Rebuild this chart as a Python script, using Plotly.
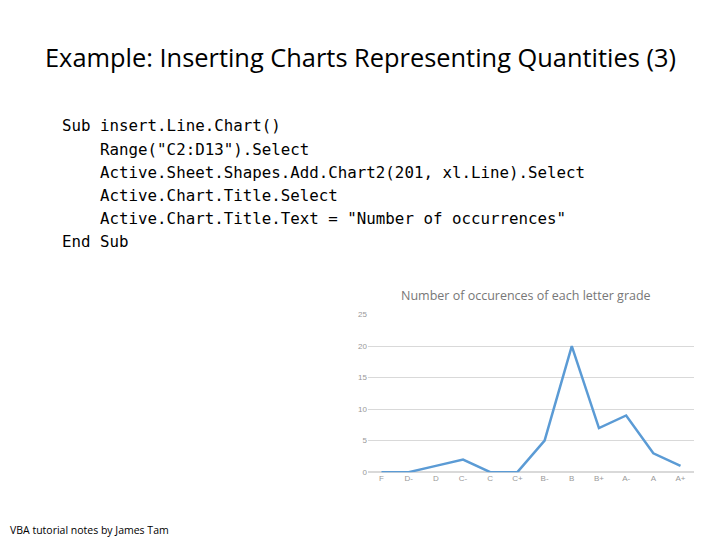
import plotly.graph_objects as go

grades = ["F", "D-", "D", "C-", "C", "C+", "B-", "B", "B+", "A-", "A", "A+"]
counts = [0, 0, 1, 2, 0, 0, 5, 20, 7, 9, 3, 1]
y_ticks = [0, 5, 10, 15, 20, 25]

code_lines = [
    'Sub insert.Line.Chart()',
    '    Range("C2:D13").Select',
    '    Active.Sheet.Shapes.Add.Chart2(201, xl.Line).Select',
    '    Active.Chart.Title.Select',
    '    Active.Chart.Title.Text = "Number of occurrences"',
    'End Sub',
]

W, H = 720, 540
def py(v):  # compensate for page rendering offset/scale
    return 1 - ((v - 15.2) / 0.974) / H
def px(v):
    return (v - 7.5) / W

fig = go.Figure(go.Scatter(x=grades, y=counts, mode="lines",
                           line=dict(color="#5b9bd5", width=2.5), cliponaxis=False))

fig.update_layout(
    width=W, height=H, margin=dict(l=0, r=0, t=0, b=0),
    paper_bgcolor="white", plot_bgcolor="white", showlegend=False,
    xaxis=dict(domain=[px(367.4), px(693.6)], range=[-0.5, 11.5], type="category",
               showgrid=False, showline=False, ticks="",
               tickfont=dict(size=8, color="#999", family="Liberation Sans")),
    yaxis=dict(domain=[py(471), py(315)], range=[0, 25], tickvals=y_ticks,
               showgrid=True, gridcolor="#d9d9d9", zeroline=True, zerolinecolor="#d9d9d9",
               showline=False, tickfont=dict(size=8, color="#999", family="Liberation Sans")),
)

anns = [
    dict(text="Example: Inserting Charts Representing Quantities (3)", x=px(360), y=py(60),
         font=dict(size=25.4, family="Open Sans", color="black"), xanchor="center"),
    dict(text="Number of occurences of each letter grade", x=px(525), y=py(296),
         font=dict(size=12.5, family="Open Sans", color="#777"), xanchor="center"),
    dict(text="VBA tutorial notes by James Tam", x=px(7), y=py(528),
         font=dict(size=10.5, family="Open Sans", color="black"), xanchor="left"),
]
for i, line in enumerate(code_lines):
    anns.append(dict(text=line.replace(" ", "&nbsp;"), x=(52) / W, y=py(128 + 23 * i),
                     font=dict(size=15.8, family="DejaVu Sans Mono", color="black"),
                     xanchor="left"))
for a in anns:
    a.update(xref="paper", yref="paper", yanchor="middle", showarrow=False)
fig.update_layout(annotations=anns)

fig.write_html("out.html")
